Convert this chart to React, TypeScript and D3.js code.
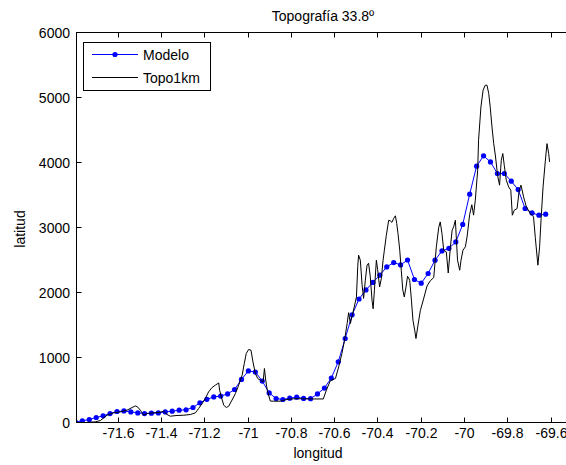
import React from "react";
import * as d3 from "d3";

// Model profile (longitude, elevation in m)
const modeloLon = [
  -71.795, -71.763, -71.731, -71.699, -71.667, -71.635, -71.603, -71.571, -71.539, -71.507,
  -71.476, -71.444, -71.412, -71.38, -71.348, -71.316, -71.284, -71.252, -71.22, -71.188,
  -71.156, -71.124, -71.092, -71.06, -71.028, -70.996, -70.964, -70.932, -70.9, -70.868,
  -70.837, -70.805, -70.773, -70.741, -70.709, -70.677, -70.645, -70.613, -70.581, -70.549,
  -70.517, -70.485, -70.453, -70.421, -70.389, -70.357, -70.325, -70.293, -70.261, -70.229,
  -70.198, -70.166, -70.134, -70.102, -70.07, -70.038, -70.006, -69.974, -69.942, -69.91,
  -69.878, -69.846, -69.814, -69.782, -69.75, -69.718, -69.686, -69.654, -69.623,
];
const modeloAlt = [
  9, 25, 46, 77, 102, 138, 169, 178, 163, 148,
  138, 143, 148, 163, 174, 189, 195, 231, 302, 356,
  394, 407, 440, 508, 662, 794, 776, 638, 455, 369,
  354, 374, 390, 370, 366, 440, 530, 684, 933, 1292,
  1656, 1900, 2040, 2155, 2266, 2394, 2461, 2425, 2500, 2200,
  2143, 2292, 2497, 2640, 2680, 2778, 3048, 3512, 3943, 4102,
  4009, 3831, 3831, 3712, 3584, 3292, 3225, 3189, 3205,
];

// 1 km topography profile
const topoLon = [
  -71.791, -71.749, -71.703, -71.68, -71.649, -71.618, -71.588, -71.557, -71.533, -71.518,
  -71.508, -71.495, -71.48, -71.464, -71.434, -71.403, -71.388, -71.372, -71.357, -71.326,
  -71.295, -71.264, -71.241, -71.226, -71.21, -71.195, -71.18, -71.164, -71.149, -71.133,
  -71.129, -71.121, -71.11, -71.098, -71.087, -71.072, -71.056, -71.041, -71.025, -71.015,
  -71.006, -70.995, -70.984, -70.975, -70.964, -70.953, -70.941, -70.928, -70.922, -70.916,
  -70.909, -70.895, -70.879, -70.849, -70.818, -70.787, -70.756, -70.695, -70.65, -70.636,
  -70.618, -70.594, -70.579, -70.564, -70.552, -70.54, -70.533, -70.525, -70.517, -70.507,
  -70.497, -70.491, -70.487, -70.479, -70.471, -70.464, -70.456, -70.448, -70.441, -70.433,
  -70.425, -70.42, -70.414, -70.405, -70.399, -70.39, -70.382, -70.374, -70.368, -70.359,
  -70.348, -70.34, -70.333, -70.325, -70.317, -70.311, -70.305, -70.297, -70.29, -70.283,
  -70.276, -70.268, -70.261, -70.251, -70.243, -70.236, -70.228, -70.222, -70.214, -70.202,
  -70.187, -70.171, -70.156, -70.14, -70.128, -70.117, -70.11, -70.102, -70.094, -70.082,
  -70.073, -70.063, -70.055, -70.048, -70.04, -70.036, -70.03, -70.02, -70.014, -70.005,
  -69.994, -69.986, -69.974, -69.964, -69.956, -69.948, -69.937, -69.933, -69.922, -69.912,
  -69.902, -69.894, -69.886, -69.879, -69.871, -69.863, -69.855, -69.845, -69.836, -69.828,
  -69.821, -69.814, -69.805, -69.794, -69.784, -69.777, -69.768, -69.755, -69.745, -69.737,
  -69.725, -69.712, -69.694, -69.679, -69.671, -69.659, -69.651, -69.644, -69.635, -69.625,
  -69.617, -69.609, -69.605,
];
const topoAlt = [
  0, 0, 10, 30, 112, 148, 163, 189, 231, 255,
  240, 189, 112, 138, 148, 158, 174, 123, 97, 108,
  112, 123, 148, 215, 292, 369, 471, 538, 574, 609,
  497, 394, 266, 231, 251, 343, 446, 574, 728, 908,
  1062, 1123, 1112, 933, 754, 677, 651, 625, 831, 651,
  497, 330, 328, 328, 354, 365, 365, 362, 362, 497,
  640, 677, 856, 1062, 1266, 1523, 1690, 1523, 1640, 1778,
  1932, 2400, 2574, 2497, 2120, 1910, 2189, 2420, 2450, 2240,
  1882, 1750, 2035, 2497, 2350, 2086, 2215, 2497, 2651, 2880,
  3112, 3100, 3080, 3140, 3180, 3062, 2908, 2651, 2343, 2040,
  1932, 2086, 2250, 2189, 1882, 1574, 1421, 1292, 1471, 1720,
  1900, 2100, 2180, 2230, 2702, 3000, 3086, 2908, 2651, 2625,
  2300, 2702, 2959, 3010, 3112, 2856, 2497, 2343, 2497, 2651,
  2702, 2856, 3200, 3350, 3190, 3420, 3882, 4343, 4855, 5112,
  5189, 5189, 5062, 4850, 4548, 4292, 4100, 3800, 3651, 4035,
  4138, 3950, 3728, 3625, 3574, 3189, 3266, 3292, 3580, 3651,
  3471, 3317, 3215, 3163, 2850, 2420, 2702, 3140, 3625, 4010,
  4290, 4138, 4009,
];

const xTicks = [-71.6, -71.4, -71.2, -71, -70.8, -70.6, -70.4, -70.2, -70, -69.8, -69.6];
const yTicks = [0, 1000, 2000, 3000, 4000, 5000, 6000];
const xDomain = [-71.79, -69.5];
const yDomain = [0, 6000];

const titleText = "Topografía 33.8º";
const xLabel = "longitud";
const yLabel = "latitud";
const legendLabels = ["Modelo", "Topo1km"];

const W = 566;
const H = 465;
const FONT = "Arial, 'Liberation Sans', Helvetica, sans-serif";
const BLUE = "#0000ff";

export default function App() {
  const left = 76.5;
  const right = 572.3;
  const top = 32.5;
  const bottom = 422.5;

  const x = d3.scaleLinear().domain(xDomain).range([left, right]);
  const y = d3.scaleLinear().domain(yDomain).range([bottom, top]);

  const modelo = modeloLon.map((lon, i) => [lon, modeloAlt[i]] as [number, number]);
  const n = Math.min(topoLon.length, topoAlt.length);
  const topo = topoLon.slice(0, n).map((lon, i) => [lon, topoAlt[i]] as [number, number]);

  const line = d3
    .line<[number, number]>()
    .x((d) => x(d[0]))
    .y((d) => y(d[1]));

  const tickLen = 5;
  const fmt = (v: number) => String(+v.toFixed(1));

  // legend geometry
  const lg = { x: 83.5, y: 42.5, w: 127, h: 48 };

  return (
    <svg
      width={W}
      height={H}
      style={{ position: "absolute", left: 0, top: 0, background: "#fff" }}
      fontFamily={FONT}
    >
      <rect x={0} y={0} width={W} height={H} fill="#fff" />
      <defs>
        <clipPath id="plotArea">
          <rect x={left} y={top} width={right - left} height={bottom - top} />
        </clipPath>
      </defs>

      {/* data */}
      <g clipPath="url(#plotArea)">
        <path d={line(modelo) ?? ""} fill="none" stroke={BLUE} strokeWidth={1} />
        {modelo.map((d, i) => (
          <circle key={i} cx={x(d[0])} cy={y(d[1])} r={2.6} fill={BLUE} />
        ))}
        <path d={line(topo) ?? ""} fill="none" stroke="#000" strokeWidth={1} />
      </g>

      {/* axes box */}
      <rect
        x={left}
        y={top}
        width={right - left}
        height={bottom - top}
        fill="none"
        stroke="#000"
        strokeWidth={1}
      />

      {/* x ticks */}
      {xTicks.map((t) => {
        const px = Math.round(x(t)) + 0.5;
        return (
          <g key={"x" + t}>
            <line x1={px} x2={px} y1={bottom} y2={bottom - tickLen} stroke="#000" />
            <line x1={px} x2={px} y1={top} y2={top + tickLen} stroke="#000" />
            <text x={px} y={438} fontSize={14} textAnchor="middle" fill="#000">
              {fmt(t)}
            </text>
          </g>
        );
      })}

      {/* y ticks */}
      {yTicks.map((t) => {
        const py = Math.round(y(t) - 0.5) + 0.5;
        return (
          <g key={"y" + t}>
            <line x1={left} x2={left + tickLen} y1={py} y2={py} stroke="#000" />
            <line x1={right} x2={right - tickLen} y1={py} y2={py} stroke="#000" />
            <text x={70} y={py + 5} fontSize={14} textAnchor="end" fill="#000">
              {t}
            </text>
          </g>
        );
      })}

      {/* title and axis labels */}
      <text x={323} y={21} fontSize={14} textAnchor="middle" fill="#000">
        {titleText}
      </text>
      <text x={318} y={458} fontSize={14} textAnchor="middle" fill="#000">
        {xLabel}
      </text>
      <text
        transform="translate(25,229) rotate(-90)"
        fontSize={14}
        textAnchor="middle"
        fill="#000"
      >
        {yLabel}
      </text>

      {/* legend */}
      <rect x={lg.x} y={lg.y} width={lg.w} height={lg.h} fill="#fff" stroke="#000" />
      <line x1={92} x2={138} y1={54.5} y2={54.5} stroke={BLUE} strokeWidth={1} />
      <circle cx={115} cy={54.5} r={2.6} fill={BLUE} />
      <text x={143} y={59.5} fontSize={14} fill="#000">
        {legendLabels[0]}
      </text>
      <line x1={92} x2={138} y1={77.5} y2={77.5} stroke="#000" strokeWidth={1} />
      <text x={143} y={82.5} fontSize={14} fill="#000">
        {legendLabels[1]}
      </text>
    </svg>
  );
}
